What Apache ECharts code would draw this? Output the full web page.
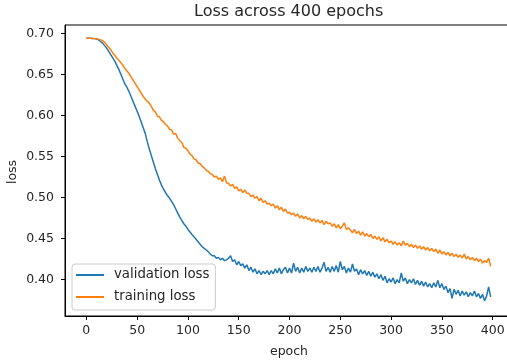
<!DOCTYPE html>
<html>
<head>
<meta charset="utf-8">
<script src="https://cdn.jsdelivr.net/npm/echarts@6/dist/echarts.min.js"></script>
<style>html,body{margin:0;padding:0;background:#fff}#c{width:507px;height:362px}</style>
</head>
<body>
<div id="c"></div>
<script>
// Values read every 2 epochs (0, 2, 4, ..., 398)
const validationLoss = [
0.694,0.694,0.694,0.6938,0.6935,0.693,0.692,0.690,0.688,0.685,
0.682,0.678,0.674,0.670,0.666,0.661,0.656,0.650,0.644,0.638,
0.634,0.629,0.623,0.617,0.611,0.605,0.599,0.592,0.585,0.578,
0.568,0.559,0.551,0.543,0.535,0.528,0.521,0.515,0.510,0.506,
0.502,0.499,0.495,0.491,0.486,0.481,0.476,0.472,0.468,0.465,
0.461,0.458,0.455,0.452,0.449,0.446,0.443,0.440,0.438,0.436,
0.434,0.431,0.429,0.429,0.426,0.427,0.424,0.426,0.423,0.424,
0.426,0.429,0.422,0.424,0.418,0.422,0.417,0.419,0.414,0.418,
0.411,0.415,0.409,0.413,0.407,0.411,0.406,0.410,0.407,0.411,
0.406,0.411,0.407,0.413,0.408,0.414,0.407,0.412,0.415,0.408,
0.414,0.408,0.420,0.410,0.415,0.408,0.414,0.409,0.416,0.410,
0.414,0.409,0.415,0.410,0.416,0.409,0.414,0.421,0.410,0.415,
0.409,0.416,0.410,0.417,0.409,0.422,0.412,0.416,0.408,0.414,
0.409,0.419,0.410,0.413,0.406,0.412,0.407,0.411,0.405,0.410,
0.404,0.409,0.403,0.407,0.401,0.406,0.399,0.404,0.396,0.401,
0.397,0.402,0.395,0.400,0.396,0.408,0.398,0.402,0.395,0.400,
0.396,0.401,0.394,0.399,0.393,0.398,0.392,0.397,0.391,0.395,
0.390,0.396,0.391,0.399,0.390,0.395,0.388,0.392,0.384,0.389,
0.377,0.388,0.382,0.387,0.380,0.386,0.381,0.385,0.379,0.384,
0.380,0.386,0.379,0.383,0.377,0.382,0.374,0.380,0.391,0.379
];
const trainingLoss = [
0.694,0.694,0.694,0.6938,0.6935,0.6932,0.6928,0.692,0.691,0.689,
0.686,0.683,0.680,0.676,0.673,0.670,0.667,0.664,0.661,0.657,
0.654,0.651,0.647,0.643,0.639,0.635,0.631,0.627,0.623,0.620,
0.617,0.615,0.611,0.606,0.604,0.599,0.598,0.594,0.592,0.589,
0.587,0.583,0.582,0.577,0.578,0.572,0.569,0.567,0.561,0.560,
0.557,0.553,0.551,0.547,0.546,0.542,0.541,0.538,0.536,0.533,
0.532,0.529,0.528,0.525,0.526,0.522,0.524,0.519,0.526,0.518,
0.517,0.514,0.516,0.511,0.513,0.508,0.510,0.506,0.509,0.505,
0.505,0.501,0.503,0.499,0.501,0.496,0.499,0.494,0.496,0.492,
0.493,0.490,0.492,0.487,0.490,0.485,0.488,0.483,0.486,0.481,
0.482,0.479,0.481,0.477,0.480,0.475,0.478,0.474,0.477,0.473,
0.475,0.471,0.474,0.470,0.473,0.469,0.472,0.467,0.471,0.468,
0.469,0.465,0.468,0.463,0.467,0.462,0.465,0.469,0.461,0.463,
0.460,0.457,0.461,0.456,0.459,0.454,0.458,0.453,0.456,0.452,
0.455,0.450,0.453,0.449,0.452,0.447,0.451,0.446,0.449,0.445,
0.447,0.443,0.446,0.442,0.445,0.441,0.447,0.442,0.444,0.440,
0.443,0.439,0.442,0.438,0.441,0.437,0.440,0.436,0.439,0.435,
0.438,0.434,0.437,0.432,0.436,0.431,0.434,0.430,0.433,0.429,
0.432,0.428,0.431,0.427,0.430,0.426,0.431,0.425,0.428,0.424,
0.427,0.423,0.426,0.422,0.425,0.420,0.423,0.421,0.426,0.416
];
const epochStep = 2;
const xTicks = [0, 50, 100, 150, 200, 250, 300, 350, 400];
const yTicks = [0.40, 0.45, 0.50, 0.55, 0.60, 0.65, 0.70];
const seriesNames = ['validation loss', 'training loss'];
const titleText = 'Loss across 400 epochs';
const xName = 'epoch';
const yName = 'loss';

const pairs = arr => arr.map((v, i) => [i * epochStep, v]);
const FONT = 'DejaVu Sans';
const TXT = '#262626';

const chart = echarts.init(document.getElementById('c'), null, {renderer: 'canvas'});
chart.setOption({
  animation: false,
  backgroundColor: '#fff',
  grid: {left: 65, top: 25, width: 448, height: 291, show: true, borderColor: '#000', borderWidth: 1,
         backgroundColor: 'transparent', containLabel: false, outerBoundsMode: 'none'},
  graphic: [{
    type: 'text', left: 194, top: 4,
    style: {text: titleText, font: '16px "DejaVu Sans"', fill: TXT}
  }, {
    type: 'text', x: 13, y: 172, rotation: Math.PI / 2,
    style: {text: yName, font: '12.5px "DejaVu Sans"', fill: TXT, align: 'center', verticalAlign: 'middle'}
  }],
  legend: {
    orient: 'vertical', left: 72, top: 264,
    padding: [3, 6, 5, 4], itemGap: 6,
    itemWidth: 28, itemHeight: 2, icon: 'rect',
    borderColor: '#cccccc', borderWidth: 1, borderRadius: 3,
    backgroundColor: 'rgba(255,255,255,0.8)',
    textStyle: {fontFamily: FONT, fontSize: 13.3, color: TXT, lineHeight: 16, padding: [0, 0, 0, 5]},
    data: seriesNames
  },
  xAxis: {
    type: 'value', min: -21, max: 420,
    name: xName, nameLocation: 'middle', nameGap: 29,
    nameTextStyle: {fontFamily: FONT, fontSize: 12.5, color: TXT},
    axisLine: {show: true, onZero: false, lineStyle: {color: '#000', width: 1}},
    axisTick: {show: true, length: 4, customValues: xTicks, lineStyle: {color: '#000', width: 1}},
    axisLabel: {customValues: xTicks, margin: 8, fontFamily: FONT, fontSize: 12.5, color: TXT},
    splitLine: {show: false}
  },
  yAxis: {
    type: 'value', min: 0.3556, max: 0.7101,
    axisLine: {show: true, onZero: false, lineStyle: {color: '#000', width: 1}},
    axisTick: {show: true, length: 4, customValues: yTicks, lineStyle: {color: '#000', width: 1}},
    axisLabel: {customValues: yTicks, margin: 11, fontFamily: FONT, fontSize: 12.5, color: TXT,
      formatter: v => v.toFixed(2)},
    splitLine: {show: false}
  },
  series: [
    {name: seriesNames[0], type: 'line', data: pairs(validationLoss), showSymbol: false, symbol: 'none',
     lineStyle: {color: '#1f77b4', width: 1.5}, itemStyle: {color: '#1f77b4'}, z: 2},
    {name: seriesNames[1], type: 'line', data: pairs(trainingLoss), showSymbol: false, symbol: 'none',
     lineStyle: {color: '#ff7f0e', width: 1.5}, itemStyle: {color: '#ff7f0e'}, z: 3}
  ]
});
</script>
</body>
</html>
